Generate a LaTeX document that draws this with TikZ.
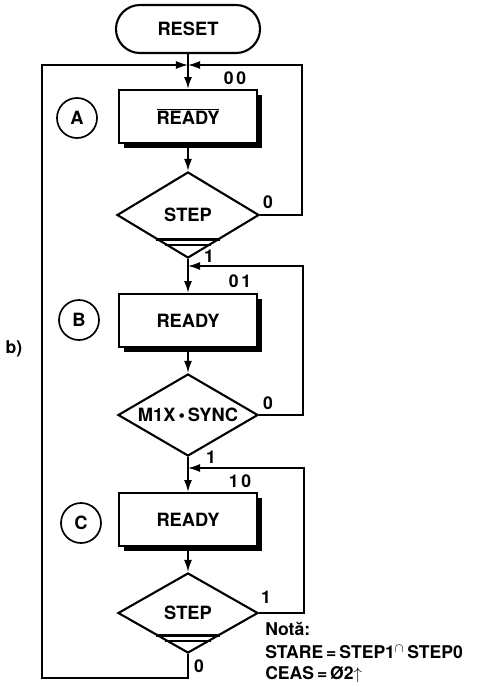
\documentclass[tikz,border=0pt]{standalone}
\usepackage{fontspec}
\setmainfont{TeX Gyre Heros}
\usepackage{tikz}
\usetikzlibrary{arrows.meta,calc,positioning,shapes.geometric,shadows}
\tikzset{termnode/.style={draw,line width=1.5pt,rounded corners=.6cm,minimum width=3.6cm,minimum height=1.2cm,font=\fontsize{13}{15}\selectfont\bfseries}, statebox/.style={draw,line width=1.5pt,fill=white,minimum width=3.45cm,minimum height=1.32cm,font=\fontsize{13}{15}\selectfont\bfseries,drop shadow={shadow xshift=.12cm,shadow yshift=-.12cm,fill=black,opacity=1}}, testnode/.style={diamond,aspect=1.7,draw,line width=1.5pt,inner sep=0pt,font=\fontsize{13}{15}\selectfont\bfseries}, tagcircle/.style={circle,draw,line width=1.2pt,minimum size=1cm,inner sep=0pt,font=\fontsize{13}{15}\selectfont\bfseries}, flowline/.style={line width=1.3pt}, loopline/.style={line width=1.1pt}, tip/.style={-{Latex[length=3mm,width=2mm]}}, note/.style={font=\fontsize{12.5}{14}\selectfont\bfseries,inner sep=0pt}, band/.style={line width=2pt}, bandthin/.style={line width=1.1pt}}

\begin{document}
\begin{tikzpicture}[x=.025cm,y=-.025cm]
\useasboundingbox (0,0) rectangle (477,687);
% main column
\node[termnode] (reset) at (188,29) {RESET};
\coordinate (jA) at (188,65);\coordinate (jB) at (188,266);\coordinate (jC) at (188,468);
\node[statebox] (boxA) at (188,116.5) {$\overline{\mbox{READY}}$};
\node[testnode,minimum width=3.55cm,minimum height=2.15cm] (dA) at (188,215) {STEP};
\node[statebox] (boxB) at (188,320.5) {READY};
\node[testnode,minimum width=3.5cm,minimum height=2.05cm] (dB) at (188,415) {M1X\,•\,SYNC};
\node[statebox] (boxC) at (188,519.5) {READY};
\node[testnode,minimum width=3.5cm,minimum height=2cm] (dC) at (188,613) {STEP};
\draw[flowline] (reset) -- (jA);\draw[flowline,tip] (jA) -- (boxA);
\draw[flowline,tip] (boxA) -- (dA);
\draw[flowline] (dA.south) -- (jB);\draw[flowline,tip] (jB) -- (boxB);
\draw[flowline,tip] (boxB) -- (dB);
\draw[flowline] (dB.south) -- (jC);\draw[flowline,tip] (jC) -- (boxC);
\draw[flowline,tip] (boxC) -- (dC);
% bands in the diamonds
\draw[band] ($(dA.west)!.55!(dA.south)$) -- ($(dA.east)!.55!(dA.south)$);
\draw[bandthin] ($(dA.west)!.68!(dA.south)$) -- ($(dA.east)!.68!(dA.south)$);
\draw[band] ($(dC.west)!.55!(dC.south)$) -- ($(dC.east)!.55!(dC.south)$);
\draw[bandthin] ($(dC.west)!.68!(dC.south)$) -- ($(dC.east)!.68!(dC.south)$);
% loops
\coordinate (rA) at (302,65);\coordinate (rB) at (303,266);\coordinate (rC) at (304,468);
\coordinate (lb) at (42,678);
\draw[loopline,tip] (dA.east) -| (rA) -- (jA);
\draw[loopline,tip] (dB.east) -| (rB) -- (jB);
\draw[loopline,tip] (dC.east) -| (rC) -- (jC);
\draw[loopline,tip] (dC.south) |- (lb) |- (jA);
% codes and branch values
\node[note] (c00) at (235,78) {0\,0};
\node[note] (c01) at (240,281) {0\,1};
\node[note] (c10) at (240,481) {1\,0};
\node[note] (vA0) at (268,202) {0};
\node[note] (vA1) at (209,256) {1};
\node[note] (vB0) at (268,403) {0};
\node[note] (vB1) at (211,457) {1};
\node[note] (vC1) at (266,597) {1};
\node[note] (vC0) at (199,666) {0};
% state tags
\node[tagcircle] (tA) at (77,118) {A};
\node[tagcircle] (tB) at (79,320) {B};
\node[tagcircle] (tC) at (81,523) {C};
\node[note] (fig) at (14,349) {b)};
% note
\node[note,anchor=west] (n1) at (265,629) {Notă:};
\node[note,anchor=west] (n2) at (265,652) {STARE\,=\,STEP1$^{\cap}$\,STEP0};
\node[note,anchor=west] (n3) at (265,675) {CEAS\,=\,Ø2$\uparrow$};
\end{tikzpicture}
\end{document}
